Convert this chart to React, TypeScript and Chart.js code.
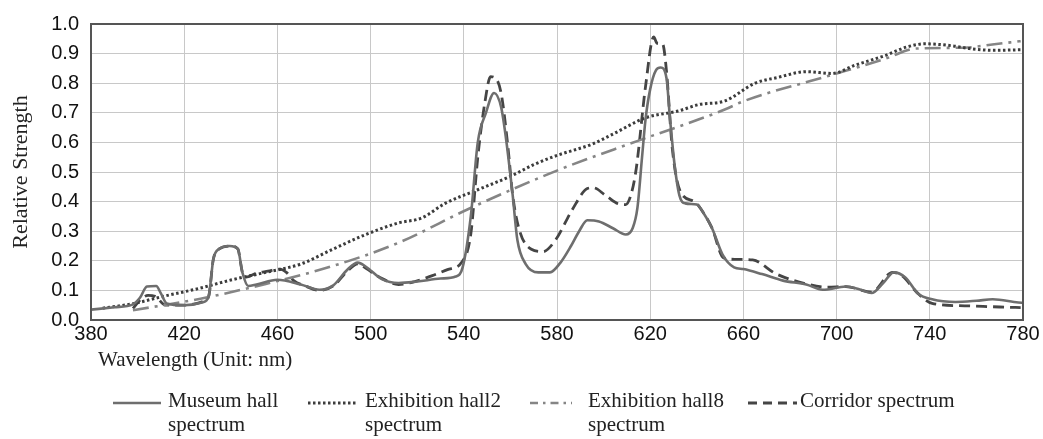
import React, { useEffect, useRef } from "react";
import { Chart, registerables } from "chart.js";

Chart.register(...registerables);

// ---- Data ----
const xTicks = [380, 420, 460, 500, 540, 580, 620, 660, 700, 740, 780];
const yTicks = [0, 0.1, 0.2, 0.3, 0.4, 0.5, 0.6, 0.7, 0.8, 0.9, 1.0];

const museumWl = [380, 390, 398, 401, 404, 408, 410, 412.5, 420, 428, 430.5, 432.5, 435, 439.5, 443, 445, 447.5, 451, 460, 470, 478, 484, 490, 494.5, 498, 505, 512, 520, 530, 536.5, 539.5, 543, 546, 549.5, 553, 556, 558, 561, 563, 566.5, 572, 577, 581.5, 586, 589.5, 593, 598, 604, 609.5, 612.5, 614.5, 616.5, 618, 620, 622.5, 624.5, 627, 628.5, 630.5, 632.5, 635, 640, 643, 646.5, 651, 656, 660, 668, 677, 687, 694, 704, 710, 715, 720, 724.5, 729.5, 735, 741, 751, 760, 767, 778, 780];
const museumVal = [0.035, 0.043, 0.053, 0.075, 0.113, 0.115, 0.09, 0.056, 0.05, 0.06, 0.08, 0.205, 0.24, 0.25, 0.24, 0.16, 0.115, 0.12, 0.136, 0.12, 0.102, 0.117, 0.17, 0.194, 0.18, 0.137, 0.125, 0.13, 0.14, 0.147, 0.178, 0.35, 0.6, 0.7, 0.767, 0.72, 0.62, 0.42, 0.27, 0.19, 0.161, 0.161, 0.194, 0.25, 0.3, 0.337, 0.333, 0.31, 0.289, 0.311, 0.378, 0.55, 0.678, 0.78, 0.844, 0.853, 0.817, 0.68, 0.522, 0.422, 0.394, 0.39, 0.36, 0.311, 0.222, 0.178, 0.172, 0.155, 0.133, 0.12, 0.102, 0.113, 0.103, 0.091, 0.125, 0.161, 0.144, 0.089, 0.07, 0.061, 0.065, 0.07, 0.059, 0.058];

const hall2Wl = [385, 398, 410, 427, 440, 455, 470, 484, 498, 512, 522, 532, 546, 561, 570, 580, 595, 604, 618, 632, 641, 652, 665, 675, 687, 698, 708, 721, 730, 738, 750, 757, 768, 779];
const hall2Val = [0.04, 0.055, 0.078, 0.108, 0.135, 0.161, 0.189, 0.24, 0.289, 0.328, 0.345, 0.394, 0.44, 0.489, 0.525, 0.556, 0.594, 0.628, 0.683, 0.706, 0.728, 0.74, 0.8, 0.82, 0.839, 0.833, 0.861, 0.894, 0.922, 0.933, 0.926, 0.917, 0.911, 0.913];

const hall8Wl = [398, 427, 455, 484, 512, 542, 581, 615, 652, 660, 698, 721, 734, 755, 766, 779];
const hall8Val = [0.033, 0.072, 0.122, 0.183, 0.261, 0.375, 0.508, 0.606, 0.711, 0.739, 0.828, 0.883, 0.917, 0.92, 0.93, 0.942];

const corridorWl = [398, 401, 404.5, 407.5, 412, 420, 428, 430.5, 432.5, 435, 440, 443, 445, 446.5, 451, 456, 461, 464, 467, 472, 478, 484, 490, 494.5, 498, 504, 512, 519, 526.5, 533, 539, 543, 546, 549, 551.5, 553, 556, 559, 561, 564, 569, 574, 579.5, 586.5, 593, 595.5, 601, 606.5, 609.5, 612, 614, 618, 621.5, 623, 625.3, 627, 629.5, 633, 639, 643, 646.5, 651.5, 656.5, 664, 674, 687, 696, 704, 715, 724, 728, 735, 741, 755, 770, 779];
const corridorVal = [0.039, 0.067, 0.083, 0.08, 0.05, 0.05, 0.062, 0.08, 0.205, 0.24, 0.25, 0.24, 0.16, 0.145, 0.158, 0.165, 0.172, 0.16, 0.133, 0.115, 0.1, 0.115, 0.165, 0.19, 0.175, 0.144, 0.12, 0.13, 0.15, 0.17, 0.194, 0.29, 0.55, 0.733, 0.822, 0.82, 0.767, 0.58, 0.42, 0.3, 0.239, 0.231, 0.272, 0.372, 0.444, 0.447, 0.42, 0.392, 0.39, 0.43, 0.511, 0.789, 0.956, 0.935, 0.933, 0.84, 0.578, 0.433, 0.4, 0.36, 0.311, 0.21, 0.205, 0.203, 0.156, 0.122, 0.111, 0.113, 0.094, 0.161, 0.15, 0.089, 0.056, 0.048, 0.044, 0.042];

const seriesNames = ["Museum hall spectrum", "Exhibition hall2 spectrum", "Exhibition hall8 spectrum", "Corridor spectrum"];

const toPts = (xs: number[], ys: number[]) => xs.map((x, i) => ({ x, y: ys[i] }));

const styles = [
  { color: "#6e6e6e", width: 2.6, dash: [] as number[] },
  { color: "#3c3c3c", width: 3, dash: [2.5, 2.5] },
  { color: "#858585", width: 2.6, dash: [16, 6, 3, 6] },
  { color: "#454545", width: 2.8, dash: [11, 6] },
];

const framePlugin = {
  id: "frame",
  afterDatasetsDraw(chart: any) {
    const { ctx, chartArea } = chart;
    ctx.save();
    ctx.strokeStyle = "#555555";
    ctx.lineWidth = 2;
    ctx.strokeRect(chartArea.left, chartArea.top, chartArea.right - chartArea.left, chartArea.bottom - chartArea.top);
    ctx.restore();
  },
};

export default function App() {
  const ref = useRef<HTMLCanvasElement | null>(null);

  useEffect(() => {
    if (!ref.current) return;
    const data = [
      toPts(museumWl, museumVal),
      toPts(hall2Wl, hall2Val),
      toPts(hall8Wl, hall8Val),
      toPts(corridorWl, corridorVal),
    ];
    const chart = new Chart(ref.current, {
      type: "line",
      data: {
        datasets: data.map((d, i) => ({
          label: seriesNames[i],
          data: d,
          borderColor: styles[i].color,
          borderWidth: styles[i].width,
          borderDash: styles[i].dash,
          pointRadius: 0,
          fill: false,
          cubicInterpolationMode: "monotone" as const,
        })),
      },
      options: {
        responsive: false,
        animation: false,
        layout: { padding: { left: 0, right: 20, top: 20, bottom: 89 } },
        plugins: { legend: { display: false }, tooltip: { enabled: false } },
        scales: {
          x: {
            type: "linear",
            min: 380,
            max: 780,
            afterBuildTicks: (scale: any) => {
              scale.ticks = xTicks.map((v) => ({ value: v }));
            },
            afterFit: (scale: any) => {
              scale.height = 30;
            },
            ticks: {
              color: "#111",
              font: { family: "'Liberation Sans', Arial, sans-serif", size: 20 },
              padding: 2,
              maxRotation: 0,
              autoSkip: false,
            },
            grid: { color: "#c8c8c8", lineWidth: 1, drawTicks: false },
            border: { display: false },
          },
          y: {
            type: "linear",
            min: 0,
            max: 1,
            afterBuildTicks: (scale: any) => {
              scale.ticks = yTicks.map((v) => ({ value: v }));
            },
            afterFit: (scale: any) => {
              scale.width = 91;
            },
            ticks: {
              color: "#111",
              font: { family: "'Liberation Sans', Arial, sans-serif", size: 20 },
              padding: 12,
              callback: (v: any) => Number(v).toFixed(1),
            },
            grid: { color: "#c8c8c8", lineWidth: 1, drawTicks: false },
            border: { display: false },
            title: {
              display: true,
              text: "Relative Strength",
              color: "#222",
              font: { family: "'Liberation Serif', 'Times New Roman', serif", size: 22 },
              padding: { top: 8, bottom: 0 },
            },
          },
        },
      },
      plugins: [framePlugin],
    });
    return () => chart.destroy();
  }, []);

  const serif = "'Liberation Serif', 'Times New Roman', serif";
  const legendItems = [
    { sx: 113, sw: 48, tx: 168, lines: ["Museum hall", "spectrum"], st: styles[0] },
    { sx: 308, sw: 49, tx: 365, lines: ["Exhibition hall2", "spectrum"], st: styles[1] },
    { sx: 530, sw: 42, tx: 588, lines: ["Exhibition hall8", "spectrum"], st: { ...styles[2], dash: [8, 5, 2.5, 5] } },
    { sx: 748, sw: 49, tx: 800, lines: ["Corridor spectrum"], st: { ...styles[3], dash: [9, 6] } },
  ];

  return (
    <div style={{ position: "fixed", left: 0, top: 0, width: 1043, height: 439, background: "#fff", overflow: "hidden" }}>
      <canvas ref={ref} width={1043} height={439} style={{ position: "absolute", left: 0, top: 0 }} />
      <div style={{ position: "absolute", left: 98, top: 347, fontFamily: serif, fontSize: 21, lineHeight: "24px", color: "#222", whiteSpace: "nowrap" }}>
        Wavelength (Unit: nm)
      </div>
      {legendItems.map((it, i) => (
        <React.Fragment key={i}>
          <svg style={{ position: "absolute", left: it.sx, top: 397 }} width={it.sw} height={12}>
            <line x1={0} y1={6} x2={it.sw} y2={6} stroke={it.st.color} strokeWidth={it.st.width} strokeDasharray={it.st.dash.length ? it.st.dash.join(" ") : undefined} />
          </svg>
          <div style={{ position: "absolute", left: it.tx, top: 388, fontFamily: serif, fontSize: 21, lineHeight: "24px", color: "#222", whiteSpace: "nowrap" }}>
            {it.lines.map((l, j) => (
              <div key={j}>{l}</div>
            ))}
          </div>
        </React.Fragment>
      ))}
    </div>
  );
}
